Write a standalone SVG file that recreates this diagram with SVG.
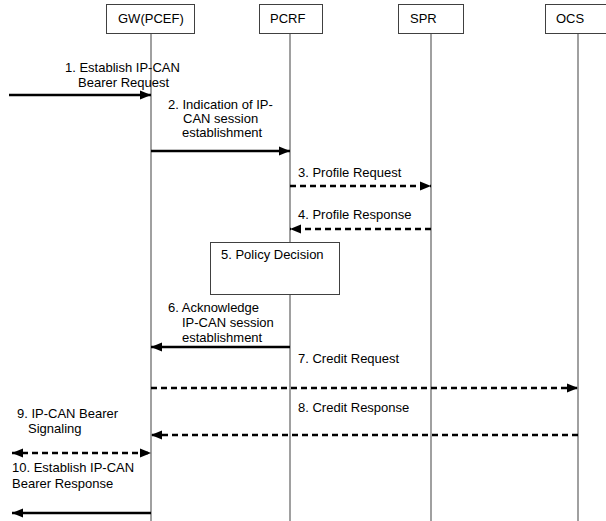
<svg xmlns="http://www.w3.org/2000/svg" width="606" height="521" viewBox="0 0 606 521">
  <style>
    .box { fill: #ffffff; stroke: #404040; stroke-width: 1; }
    .life { stroke: #808080; stroke-width: 1.5; fill: none; }
    .lbl { font-family: "Liberation Sans", Arial, sans-serif; font-size: 13px; fill: #000000; }
    .msg { stroke: #000000; stroke-width: 2.5; fill: none; }
    .dash { stroke-dasharray: 6 4; }
  </style>
  <defs>
    <marker id="head" markerUnits="userSpaceOnUse" markerWidth="12" markerHeight="10" refX="11" refY="5" orient="auto">
      <path d="M0,0.5 L11,5 L0,9.5 Z" fill="#000000"/>
    </marker>
    <marker id="tail" markerUnits="userSpaceOnUse" markerWidth="12" markerHeight="10" refX="0" refY="5" orient="auto">
      <path d="M11,0.5 L0,5 L11,9.5 Z" fill="#000000"/>
    </marker>
  </defs>

  <rect width="606" height="521" fill="#ffffff"/>

  <!-- lifelines -->
  <g id="lifelines">
    <line class="life" x1="151" y1="33" x2="151" y2="521"/>
    <line class="life" x1="290" y1="33" x2="290" y2="521"/>
    <line class="life" x1="431" y1="33" x2="431" y2="521"/>
    <line class="life" x1="578" y1="33" x2="578" y2="521"/>
  </g>

  <!-- participants -->
  <g id="gw">
    <rect class="box" x="106.5" y="4.5" width="88" height="29"/>
    <text class="lbl" x="118" y="23">GW(PCEF)</text>
  </g>
  <g id="pcrf">
    <rect class="box" x="259.5" y="4.5" width="63" height="29"/>
    <text class="lbl" x="270" y="23">PCRF</text>
  </g>
  <g id="spr">
    <rect class="box" x="398.5" y="4.5" width="65" height="29"/>
    <text class="lbl" x="410" y="23">SPR</text>
  </g>
  <g id="ocs">
    <rect class="box" x="545.5" y="4.5" width="64" height="29"/>
    <text class="lbl" x="556" y="23">OCS</text>
  </g>

  <!-- policy decision step -->
  <g id="policy">
    <rect class="box" x="210.5" y="242.5" width="129" height="52"/>
    <text class="lbl" x="221" y="259">5. Policy Decision</text>
  </g>

  <!-- message connectors -->
  <g id="connectors">
    <line class="msg" x1="9" y1="95" x2="151" y2="95" marker-end="url(#head)"/>
    <line class="msg" x1="151" y1="151" x2="290" y2="151" marker-end="url(#head)"/>
    <line class="msg dash" x1="290" y1="186" x2="431" y2="186" marker-end="url(#head)"/>
    <line class="msg dash" x1="431" y1="229" x2="290" y2="229" marker-end="url(#head)"/>
    <line class="msg" x1="290" y1="347" x2="151" y2="347" marker-end="url(#head)"/>
    <line class="msg dash" x1="151" y1="388" x2="578" y2="388" marker-end="url(#head)"/>
    <line class="msg dash" x1="578" y1="435" x2="151" y2="435" marker-end="url(#head)"/>
    <line class="msg dash" x1="12" y1="453" x2="151" y2="453" marker-start="url(#tail)" marker-end="url(#head)"/>
    <line class="msg" x1="151" y1="513" x2="12" y2="513" marker-end="url(#head)"/>
  </g>

  <!-- message labels -->
  <g id="labels">
    <text class="lbl" x="65" y="72">1. Establish IP-CAN</text>
    <text class="lbl" x="78" y="87">Bearer Request</text>

    <text class="lbl" x="168" y="109">2. Indication of IP-</text>
    <text class="lbl" x="183" y="123">CAN session</text>
    <text class="lbl" x="182" y="137">establishment</text>

    <text class="lbl" x="298" y="177">3. Profile Request</text>
    <text class="lbl" x="298" y="219">4. Profile Response</text>

    <text class="lbl" x="168" y="312">6. Acknowledge</text>
    <text class="lbl" x="182" y="327">IP-CAN session</text>
    <text class="lbl" x="182" y="342">establishment</text>

    <text class="lbl" x="298" y="363">7. Credit Request</text>
    <text class="lbl" x="298" y="412">8. Credit Response</text>

    <text class="lbl" x="17" y="418">9. IP-CAN Bearer</text>
    <text class="lbl" x="28" y="433">Signaling</text>

    <text class="lbl" x="12" y="472">10. Establish IP-CAN</text>
    <text class="lbl" x="12" y="488">Bearer Response</text>
  </g>
</svg>
